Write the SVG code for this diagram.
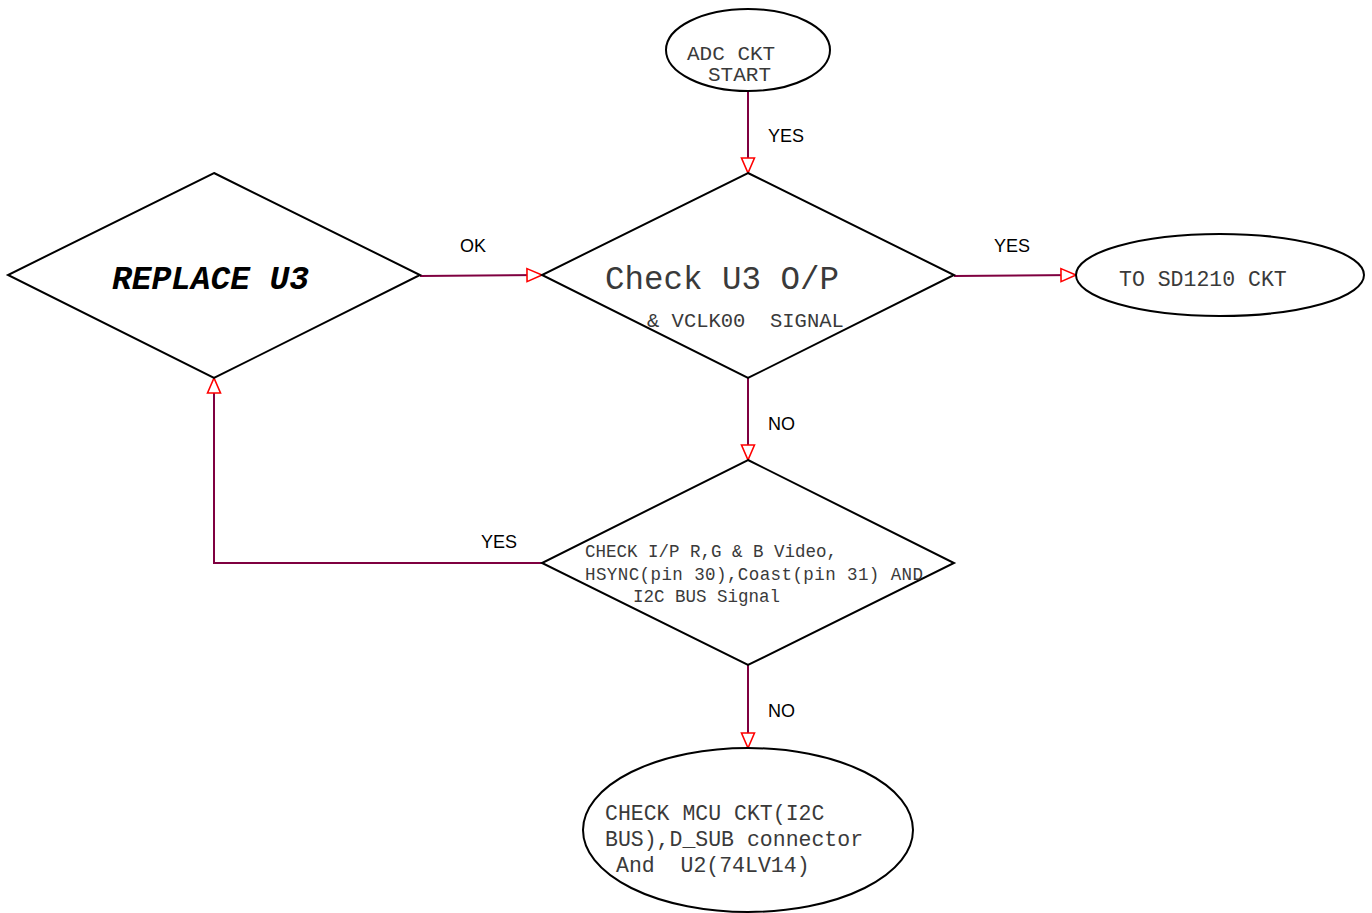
<svg xmlns="http://www.w3.org/2000/svg" width="1372" height="913" viewBox="0 0 1372 913">
<style>
.shape{fill:#fff;stroke:#000;stroke-width:2}
.conn{fill:none;stroke:#7f0040;stroke-width:2;marker-end:url(#arr)}
.mono{font-family:"Liberation Mono","Courier New",monospace;fill:#3a3a3a}
.lbl{font-family:"Liberation Sans",Arial,sans-serif;font-size:18px;fill:#000}
</style>
<defs>
<marker id="arr" markerUnits="userSpaceOnUse" markerWidth="20" markerHeight="16" refX="16" refY="7" orient="auto" overflow="visible">
<path d="M1,0.5 L16,7 L1,13.5 Z" fill="#fff" stroke="#f00" stroke-width="1.6"/>
</marker>
</defs>
<rect width="1372" height="913" fill="#fff"/>
<g id="connectors">
<path class="conn" d="M748,91 L748,173"/>
<path class="conn" d="M420,276 L542,275"/>
<path class="conn" d="M954,276 L1076,275"/>
<path class="conn" d="M748,378 L748,460"/>
<path class="conn" d="M748,665 L748,748"/>
<path class="conn" d="M542,563 L214,563 L214,378"/>
<text class="lbl" x="768" y="142">YES</text>
<text class="lbl" x="460" y="252">OK</text>
<text class="lbl" x="994" y="252">YES</text>
<text class="lbl" x="768" y="430">NO</text>
<text class="lbl" x="481" y="548">YES</text>
<text class="lbl" x="768" y="717">NO</text>
</g>
<g id="start">
<ellipse class="shape" cx="748" cy="50" rx="82" ry="41"/>
<text class="mono" font-size="21" x="687" y="60">ADC CKT</text>
<text class="mono" font-size="21" x="708" y="81">START</text>
</g>
<g id="checkU3">
<polygon class="shape" points="748,173 954,275 748,378 542,275"/>
<text class="mono" font-size="32.5" x="605" y="289">Check U3 O/P</text>
<text class="mono" font-size="20.5" x="647" y="327" xml:space="preserve">&amp; VCLK00  SIGNAL</text>
</g>
<g id="sd1210">
<ellipse class="shape" cx="1220" cy="275" rx="144" ry="41"/>
<text class="mono" font-size="21.5" x="1119" y="286">TO SD1210 CKT</text>
</g>
<g id="replaceU3">
<polygon class="shape" points="214,173 420,275 214,378 8,275"/>
<text font-family="'Liberation Mono','Courier New',monospace" font-size="33" font-weight="bold" font-style="italic" fill="#000" x="112" y="289" textLength="197">REPLACE U3</text>
</g>
<g id="checkIP">
<polygon class="shape" points="748,460 954,563 748,665 542,563"/>
<text class="mono" font-size="17.5" x="585" y="557">CHECK I/P R,G &amp; B Video,</text>
<text class="mono" font-size="17.5" x="585" y="580" textLength="338">HSYNC(pin 30),Coast(pin 31) AND</text>
<text class="mono" font-size="17.5" x="633" y="602">I2C BUS Signal</text>
</g>
<g id="checkMCU">
<ellipse class="shape" cx="748" cy="830" rx="165" ry="82"/>
<text class="mono" font-size="21.5" x="605" y="820">CHECK MCU CKT(I2C</text>
<text class="mono" font-size="21.5" x="605" y="846">BUS),D_SUB connector</text>
<text class="mono" font-size="21.5" x="616" y="872" xml:space="preserve">And  U2(74LV14)</text>
</g>
</svg>
